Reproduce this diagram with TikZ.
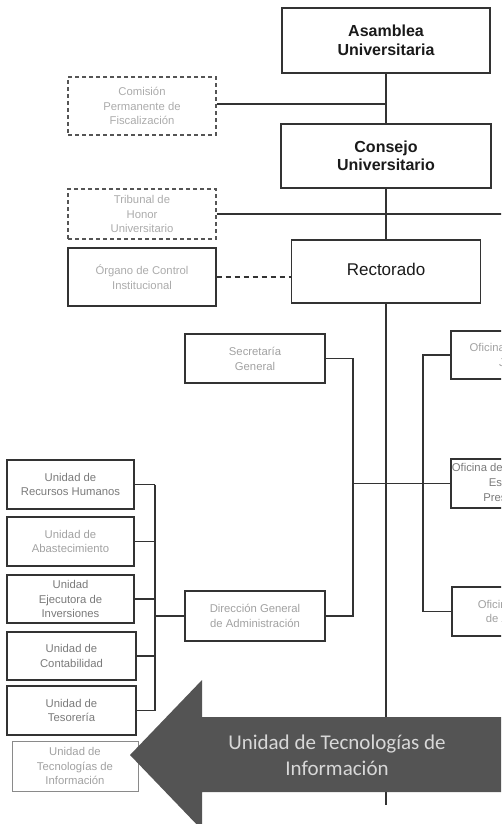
\documentclass[tikz,border=0pt]{standalone}
\usepackage{fontspec}
\setmainfont{Liberation Sans}
\newfontfamily\calfont{Carlito}
\definecolor{linecol}{HTML}{333333}
\definecolor{dashcol}{HTML}{555555}
\definecolor{headcol}{HTML}{1A1A1A}
\definecolor{midtxt}{HTML}{7A7A7A}
\definecolor{ltxt}{HTML}{ABABAB}
\definecolor{softline}{HTML}{8A8A8A}
\definecolor{arrowcol}{HTML}{545454}
\definecolor{arrowtxt}{HTML}{D8D8D8}
\begin{document}
\begin{tikzpicture}[x=1pt,y=-1pt,
  box/.style={draw=linecol, line width=1.3pt, rectangle, inner sep=0pt, align=center,
    font=\fontsize{11.3}{14.8}\selectfont, text=midtxt},
  dbox/.style={box, draw=dashcol, dash pattern=on 4pt off 3pt, text=ltxt},
  head/.style={box, line width=1.5pt, font=\bfseries\fontsize{16}{18.5}\selectfont, text=headcol},
  conn/.style={draw=linecol, line width=1.1pt},
]
\useasboundingbox (0,0) rectangle (501,824);
\clip (0,0) rectangle (501,824);

% main column
\node[head, minimum width=208pt, minimum height=65pt] (asamblea) at (386,40.5) {Asamblea\\Universitaria};
\node[head, minimum width=210pt, minimum height=64pt] (consejo) at (386,156) {Consejo\\Universitario};
\node[head, font=\fontsize{17}{20}\selectfont, minimum width=189pt, minimum height=63pt] (rectorado) at (386,271.5) {\raisebox{4pt}{Rectorado}};

% upper left
\node[dbox, minimum width=148pt, minimum height=58pt] (comision) at (142,106) {Comisión\\Permanente de\\Fiscalización};
\node[dbox, minimum width=148pt, minimum height=50pt] (tribunal) at (142,214) {Tribunal de\\Honor\\Universitario};
\node[box, text=ltxt, minimum width=148pt, minimum height=58pt] (organo) at (142,277) {Órgano de Control\\Institucional};

% middle column
\node[box, text=ltxt!80!midtxt, minimum width=140pt, minimum height=49pt] (secretaria) at (255,358.5) {Secretaría\\General};
\node[box, text=ltxt!80!midtxt, minimum width=140pt, minimum height=50pt] (direccion) at (255,616) {Dirección General\\de Administración};

% right column (cut by the page edge, as in the reference)
\node[box, text=ltxt!80!midtxt, minimum width=136pt, minimum height=48pt] (ofi1) at (519,355) {Oficina de Asesoría\\Jurídica};
\node[box, minimum width=128pt, minimum height=49pt] (ofi2) at (515,483.5) {Oficina de Planeamiento,\\Estudios y\\Presupuesto};
\node[box, text=ltxt!80!midtxt, minimum width=130pt, minimum height=49pt] (ofi3) at (517,611.5) {Oficina General\\de Admisión};

% left column
\node[box, minimum width=127pt, minimum height=49pt] (rrhh) at (70.5,484.5) {Unidad de\\Recursos Humanos};
\node[box, text=ltxt!80!midtxt, minimum width=127pt, minimum height=49pt] (abast) at (70.5,541.5) {Unidad de\\Abastecimiento};
\node[box, minimum width=127pt, minimum height=48pt] (ejec) at (70.5,599) {Unidad\\Ejecutora de\\Inversiones};
\node[box, minimum width=129pt, minimum height=48pt] (conta) at (71.5,656) {Unidad de\\Contabilidad};
\node[box, minimum width=129pt, minimum height=49pt] (teso) at (71.5,710.5) {Unidad de\\Tesorería};
\node[box, draw=softline, line width=1pt, text=ltxt!80!midtxt, minimum width=126pt, minimum height=50pt] (tecno) at (75,766) {Unidad de\\Tecnologías de\\Información};

% spine coordinates
\coordinate (lsp) at (155,0);
\coordinate (msp) at (353,0);
\coordinate (rsp) at (423,0);
\coordinate (redge) at (520,0);
\coordinate (spineend) at (386,805);

% connectors
\draw[conn] (asamblea) -- (consejo);
\draw[conn] (consejo) -- (rectorado);
\draw[conn] (rectorado.south) -- (spineend);
\draw[conn] ([yshift=2pt]comision.east) -- ([yshift=2pt]comision.east -| asamblea.south);
\draw[conn] (tribunal.east) -- (tribunal.east -| redge);
\draw[conn, dash pattern=on 5pt off 4pt] (organo.east) -- (organo.east -| rectorado.west);
\draw[conn] (secretaria.east) -- (secretaria.east -| msp) -- (direccion.east -| msp) -- (direccion.east);
\draw[conn] (ofi2.west -| msp) -- (ofi2.west);
\draw[conn] (ofi1.west) -- (ofi1.west -| rsp) -- (ofi3.west -| rsp) -- (ofi3.west);
\draw[conn] (rrhh.east -| lsp) -- (teso.east -| lsp);
\foreach \n in {rrhh,abast,ejec,conta,teso} \draw[conn] (\n.east) -- (\n.east -| lsp);
\draw[conn] (direccion.west) -- (direccion.west -| lsp);

% big arrow
\fill[arrowcol] (130,755) -- (202,680) -- (202,717) -- (520,717) -- (520,792) -- (202,792) -- (202,830) -- cycle;
\node[font=\calfont\fontsize{21}{26}\selectfont, text=arrowtxt, align=center, inner sep=0pt] (tecarrow) at (337,755) {Unidad de Tecnologías de\\Información};
\end{tikzpicture}
\end{document}
